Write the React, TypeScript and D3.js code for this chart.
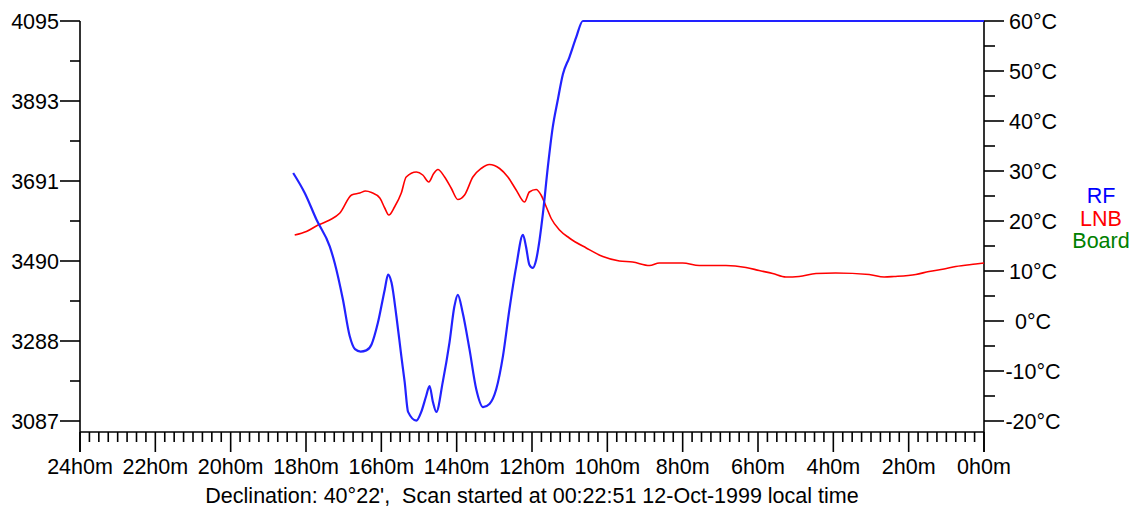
import React from "react";
import * as d3 from "d3";

// ---- data ----
const hourTicks = [24, 22, 20, 18, 16, 14, 12, 10, 8, 6, 4, 2, 0];
const leftTickLabels = ["3087", "3288", "3490", "3691", "3893", "4095"];
const rightTickValues = [-20, -10, 0, 10, 20, 30, 40, 50, 60];
const legendNames = ["RF", "LNB", "Board"];
const legendColors = ["#0000ff", "#ff0000", "#008000"];

const rfHours = [18.34, 18.03, 17.72, 17.37, 17.24, 17.02, 16.84, 16.7, 16.55, 16.4, 16.26, 16.09, 15.91, 15.82, 15.73, 15.6, 15.47, 15.38, 15.29, 15.07, 14.94, 14.81, 14.72, 14.63, 14.54, 14.37, 14.19, 14.06, 13.97, 13.84, 13.66, 13.48, 13.3, 13.13, 12.95, 12.77, 12.6, 12.42, 12.24, 12.16, 12.07, 11.98, 11.89, 11.8, 11.71, 11.58, 11.45, 11.32, 11.18, 11.01, 10.83, 10.65, 0];
const rfCounts = [3712, 3661, 3594, 3527, 3486, 3393, 3301, 3268, 3262, 3265, 3280, 3335, 3418, 3456, 3436, 3351, 3251, 3185, 3110, 3088, 3110, 3150, 3175, 3135, 3110, 3185, 3285, 3376, 3405, 3360, 3268, 3167, 3122, 3130, 3167, 3251, 3368, 3476, 3556, 3527, 3481, 3473, 3493, 3543, 3610, 3727, 3827, 3894, 3961, 4003, 4053, 4095, 4095];

const lnbHours = [18.3, 17.99, 17.68, 17.37, 17.1, 16.79, 16.57, 16.42, 16.26, 16.04, 15.91, 15.8, 15.65, 15.47, 15.34, 15.07, 14.9, 14.74, 14.61, 14.5, 14.32, 14.14, 13.97, 13.79, 13.57, 13.35, 13.13, 12.86, 12.64, 12.42, 12.2, 12.07, 11.89, 11.76, 11.62, 11.49, 11.27, 11.01, 10.56, 10.12, 9.68, 9.33, 8.88, 8.62, 8.0, 7.56, 6.85, 6.32, 5.97, 5.61, 5.26, 4.91, 4.46, 3.94, 3.05, 2.65, 2.39, 1.81, 1.46, 1.06, 0.75, 0.22, 0];
const lnbTemps = [17.2, 17.9, 19.2, 20.2, 21.6, 25.2, 25.6, 26.0, 25.7, 24.6, 22.6, 21.2, 22.8, 25.6, 28.8, 29.8, 29.2, 27.8, 29.5, 30.3, 28.8, 26.5, 24.3, 25.2, 28.8, 30.5, 31.3, 30.5, 28.8, 26.2, 23.8, 25.8, 26.3, 25.2, 22.8, 20.5, 18.2, 16.6, 14.6, 12.9, 12.0, 11.8, 11.1, 11.6, 11.6, 11.1, 11.1, 10.7, 10.1, 9.5, 8.8, 8.9, 9.5, 9.6, 9.3, 8.8, 8.9, 9.3, 9.9, 10.4, 10.9, 11.4, 11.6];

// ---- layout ----
const W = 1136;
const H = 515;
const L = 80;
const R = 984;
const T = 21;
const B = 421;
const AXY = 432;
const FONT = "'Liberation Sans', Arial, sans-serif";
const FS = 21.5;

export default function App() {
  const x = d3.scaleLinear().domain([24, 0]).range([L, R]);
  const yL = d3.scaleLinear().domain([3087, 4095]).range([B, T]);
  const yR = d3.scaleLinear().domain([-20, 60]).range([B, T]);

  const rfLine = d3
    .line<number>()
    .x((_, i) => x(rfHours[i]))
    .y((v) => yL(v))
    .curve(d3.curveMonotoneX)(rfCounts) as string;
  const lnbLine = d3
    .line<number>()
    .x((_, i) => x(lnbHours[i]))
    .y((v) => yR(v))
    .curve(d3.curveMonotoneX)(lnbTemps) as string;

  const leftTicks = d3.range(6).map((i) => 3087 + i * 201.6);
  const leftMinor = d3.range(5).map((i) => 3087 + (i + 0.5) * 201.6);
  const rightMinor = d3.range(8).map((i) => -15 + i * 10);
  const minorHours = d3.range(0, 24.001, 0.25).filter((h) => Math.abs(h / 2 - Math.round(h / 2)) > 1e-6);

  const stroke = "#000";
  const sw = 1.6;

  return (
    <svg width={W} height={H} style={{ position: "absolute", left: 0, top: 0, background: "#fff" }} fontFamily={FONT} fontSize={FS}>
      <rect x={0} y={0} width={W} height={H} fill="#fff" />
      {/* left axis */}
      <line x1={L} x2={L} y1={T} y2={AXY + 20} stroke={stroke} strokeWidth={sw} />
      {leftTicks.map((v, i) => (
        <g key={"lt" + i}>
          <line x1={L - 20} x2={L} y1={yL(v)} y2={yL(v)} stroke={stroke} strokeWidth={sw} />
          <text x={L - 21} y={yL(v) + 7.8} textAnchor="end" fill="#000">
            {leftTickLabels[i]}
          </text>
        </g>
      ))}
      {leftMinor.map((v, i) => (
        <line key={"lm" + i} x1={L - 10} x2={L} y1={yL(v)} y2={yL(v)} stroke={stroke} strokeWidth={sw} />
      ))}
      {/* right axis */}
      <line x1={R} x2={R} y1={T} y2={AXY + 20} stroke={stroke} strokeWidth={sw} />
      {rightTickValues.map((v) => (
        <g key={"rt" + v}>
          <line x1={R} x2={R + 20} y1={yR(v)} y2={yR(v)} stroke={stroke} strokeWidth={sw} />
          <text x={1033} y={yR(v) + 7.8} textAnchor="middle" fill="#000">
            {v + "°C"}
          </text>
        </g>
      ))}
      {rightMinor.map((v) => (
        <line key={"rm" + v} x1={R} x2={R + 11} y1={yR(v)} y2={yR(v)} stroke={stroke} strokeWidth={sw} />
      ))}
      {/* bottom axis */}
      <line x1={L} x2={R} y1={AXY} y2={AXY} stroke={stroke} strokeWidth={sw} />
      {hourTicks.map((h) => (
        <g key={"ht" + h}>
          <line x1={x(h)} x2={x(h)} y1={AXY} y2={AXY + 20} stroke={stroke} strokeWidth={sw} />
          <text x={x(h)} y={474} textAnchor="middle" fill="#000">
            {h + "h0m"}
          </text>
        </g>
      ))}
      {minorHours.map((h) => (
        <line key={"hm" + h} x1={x(h)} x2={x(h)} y1={AXY} y2={AXY + 10} stroke={stroke} strokeWidth={sw} />
      ))}
      <text x={(L + R) / 2} y={503} textAnchor="middle" fill="#000" style={{ whiteSpace: "pre" }}>
        {"Declination: 40°22',  Scan started at 00:22:51 12-Oct-1999 local time"}
      </text>
      {/* series */}
      <path d={lnbLine} fill="none" stroke="#ff0000" strokeWidth={1.6} />
      <path d={rfLine} fill="none" stroke="#2222ff" strokeWidth={2.2} />
      {/* legend */}
      {legendNames.map((n, i) => (
        <text key={n} x={1101} y={203 + i * 22.5} textAnchor="middle" fill={legendColors[i]}>
          {n}
        </text>
      ))}
    </svg>
  );
}
